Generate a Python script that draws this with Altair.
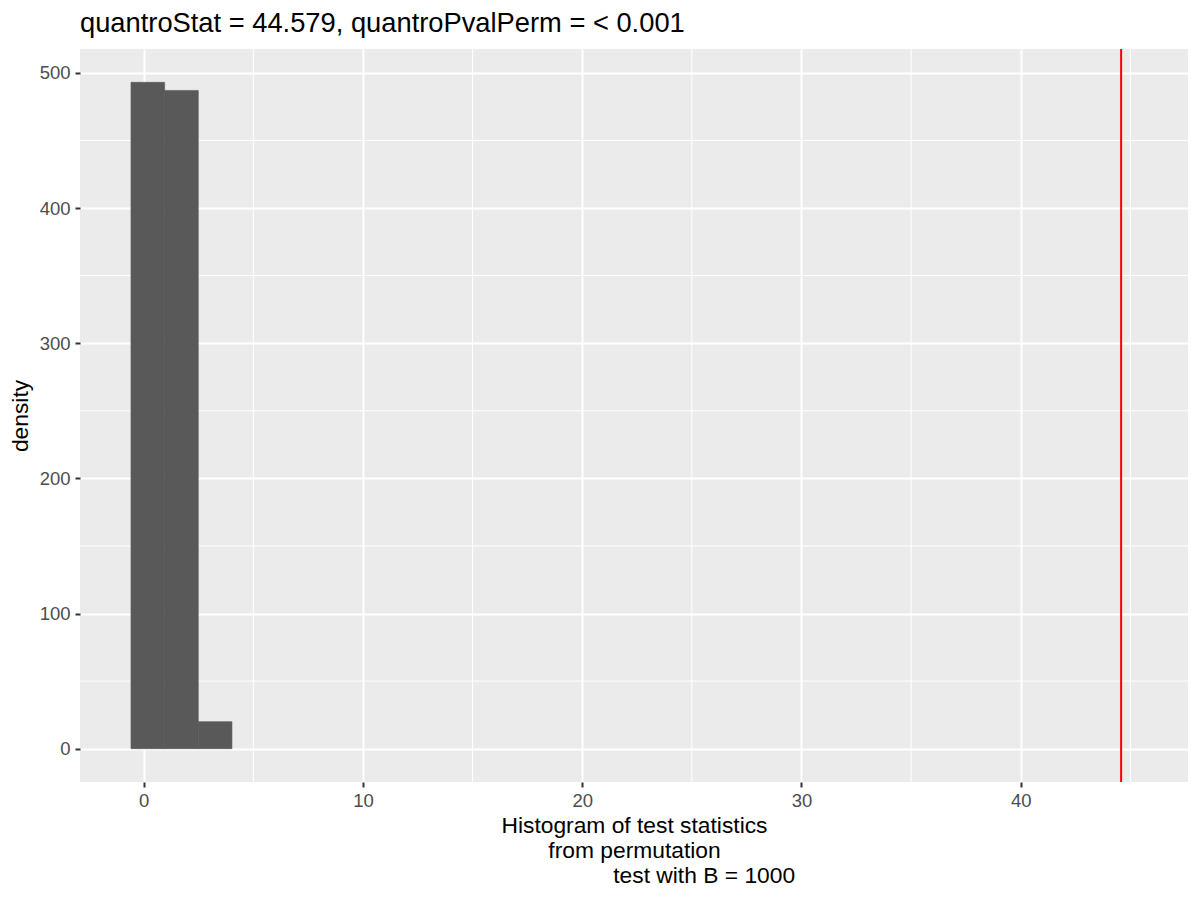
import altair as alt
import pandas as pd

# ---- data ----
bin_start = [-0.58, 0.955, 2.49]
bin_end = [0.955, 2.49, 4.025]
counts = [493, 487, 20]
observed_stat = [44.579]
x_major = [0, 10, 20, 30, 40]
x_minor = [5, 15, 25, 35, 45]
y_major = [0, 100, 200, 300, 400, 500]
y_minor = [50, 150, 250, 350, 450]

title_text = "quantroStat = 44.579, quantroPvalPerm = < 0.001"
# zero-width space keeps the leading (non-breaking) spaces from being trimmed
x_title = ["Histogram of test statistics", "from permutation",
           "\u200b" + "\u00a0" * 22 + "test with B = 1000"]
y_title = "density"

FONT = "Liberation Sans"

bars_df = pd.DataFrame({"x": bin_start, "x2": bin_end, "count": counts})
obs_df = pd.DataFrame({"x": observed_stat})
xminor_df = pd.DataFrame({"x": x_minor})
yminor_df = pd.DataFrame({"count": y_minor})

xscale = alt.Scale(domain=[-2.905, 47.63], nice=False, zero=False)
yscale = alt.Scale(domain=[-24.65, 517.65], nice=False, zero=False)
xaxis = alt.Axis(values=x_major, title=x_title, format="d")
yaxis = alt.Axis(values=y_major, title=y_title, format="d")

xminor = alt.Chart(xminor_df).mark_rule(color="white", strokeWidth=1).encode(
    x=alt.X("x:Q", scale=xscale, axis=xaxis)
)
yminor = alt.Chart(yminor_df).mark_rule(color="white", strokeWidth=1).encode(
    y=alt.Y("count:Q", scale=yscale, axis=yaxis)
)

bars = alt.Chart(bars_df).mark_rect(
    color="#595959", stroke="#595959", strokeWidth=0.6
).encode(
    x=alt.X("x:Q", scale=xscale, axis=xaxis),
    x2="x2:Q",
    y=alt.Y("count:Q", scale=yscale, axis=yaxis),
    y2=alt.datum(0),
)

vline = alt.Chart(obs_df).mark_rule(color="#FF0000", strokeWidth=2).encode(
    x=alt.X("x:Q", scale=xscale, axis=xaxis)
)

chart = alt.layer(xminor, yminor, bars, vline).properties(
    width=1108,
    height=733,
    autosize=alt.AutoSizeParams(type="none"),
    padding={"left": 72, "top": 41, "right": 4, "bottom": 110},
    title=alt.TitleParams(
        text=title_text, anchor="start", frame="group", fontSize=27.3,
        font=FONT, fontWeight="normal", color="black", offset=11,
    ),
).configure_view(
    fill="#EBEBEB", stroke=None
).configure_axis(
    grid=True, gridColor="white", gridWidth=2,
    domain=False,
    tickColor="#333333", tickSize=5, tickWidth=2,
    labelColor="#4D4D4D", labelFontSize=18.5, labelFont=FONT,
    labelPadding=4,
    titleFont=FONT, titleFontSize=22.8, titleFontWeight="normal",
    titleColor="black",
).configure_axisX(
    titlePadding=5, titleLineHeight=25,
).configure_axisY(
    titlePadding=7, labelPadding=5,
)

chart.save("out.html", embed_options={"renderer": "svg", "actions": False})
